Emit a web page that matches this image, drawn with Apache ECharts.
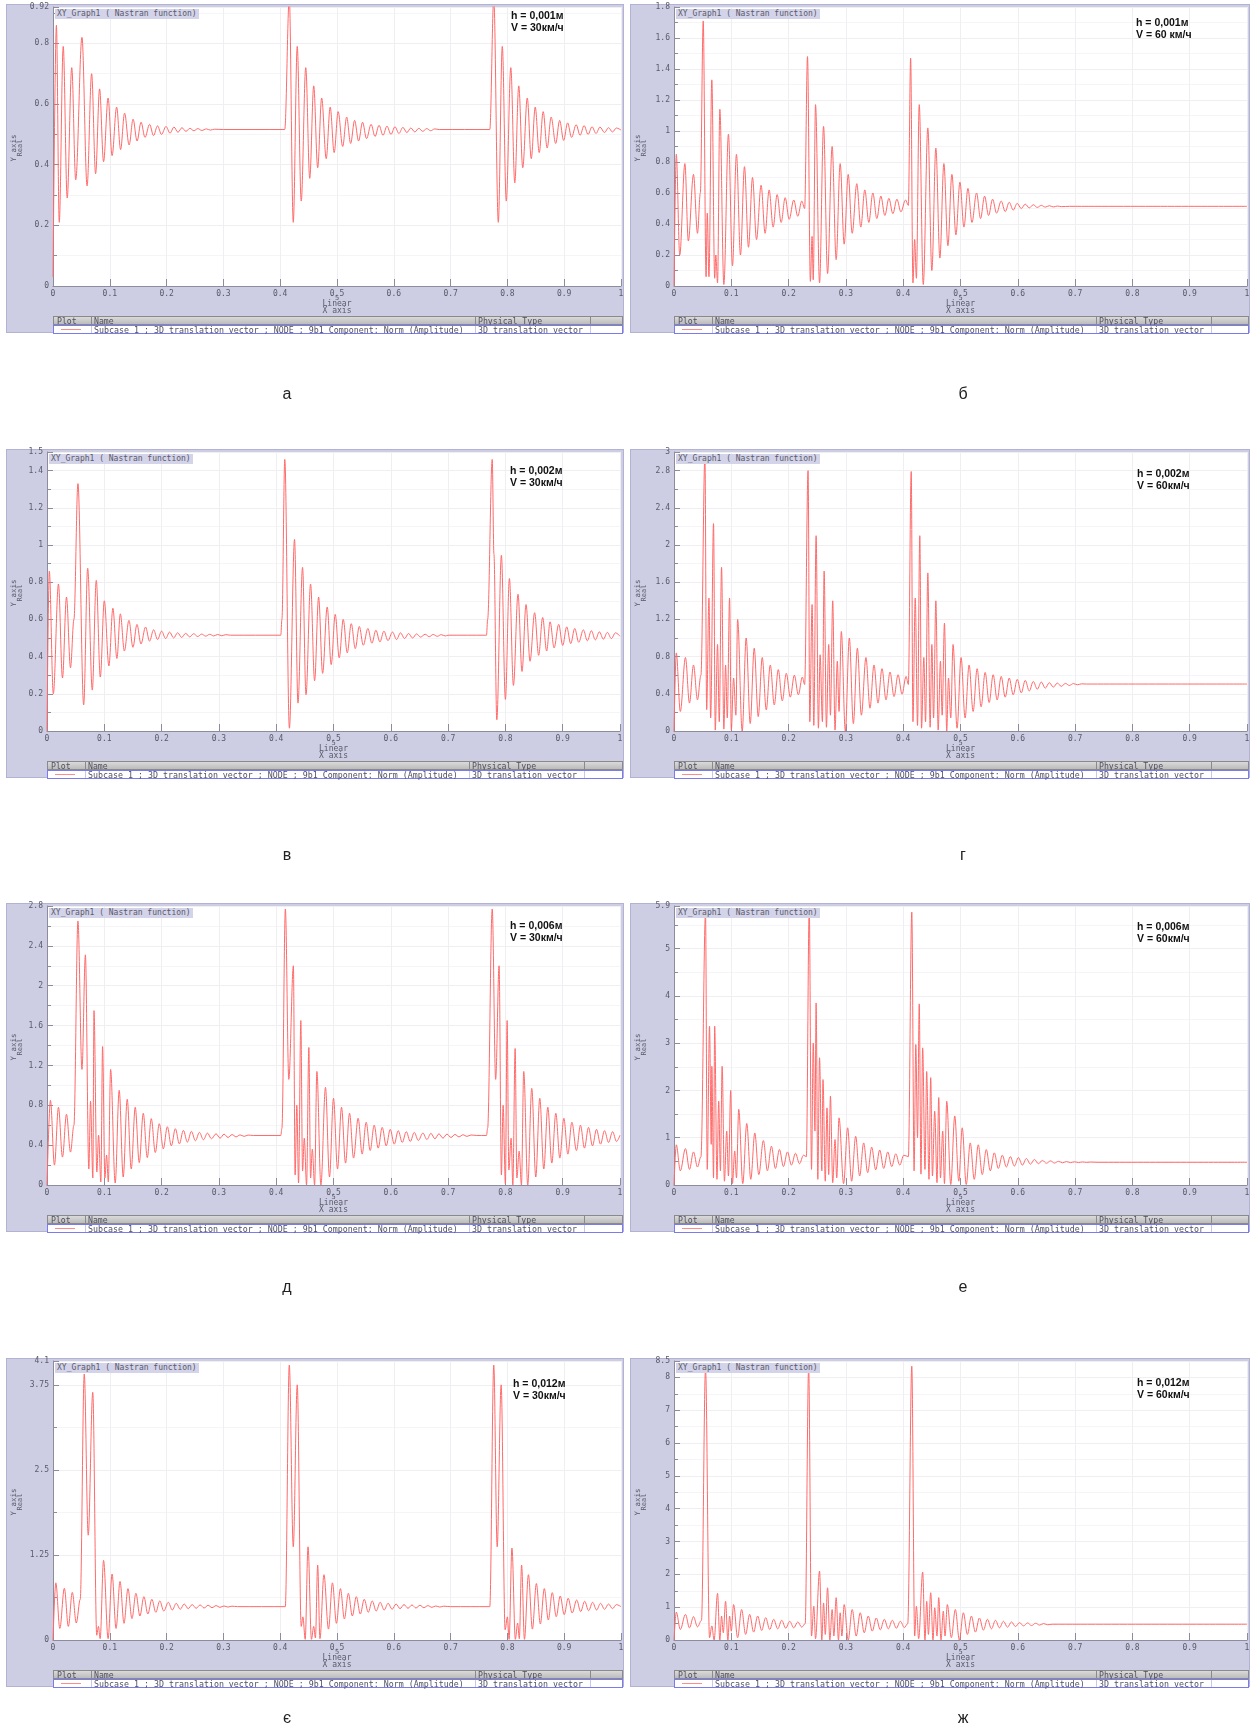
<!DOCTYPE html>
<html><head><meta charset="utf-8">
<script src="https://cdn.jsdelivr.net/npm/echarts/dist/echarts.min.js"></script>
<style>
html,body{margin:0;padding:0;background:#fff;overflow:hidden;}
#wrap{position:relative;width:1252px;height:1730px;}
#wrap div{position:absolute;box-sizing:border-box;white-space:nowrap;}
.mono{font-family:"DejaVu Sans Mono",monospace;color:#5a5a68;}
</style>
</head><body><div id="wrap"><div id="chart" style="left:0;top:0;width:1252px;height:1730px;z-index:1;"></div></div>
<script>
// ---------- texts ----------
const panelLetters = ['а','б','в','г','д','е','є','ж'];
const hLabels = ['h = 0,001м','h = 0,001м','h = 0,002м','h = 0,002м','h = 0,006м','h = 0,006м','h = 0,012м','h = 0,012м'];
const vLabels = ['V = 30км/ч','V = 60 км/ч','V = 30км/ч','V = 60км/ч','V = 30км/ч','V = 60км/ч','V = 30км/ч','V = 60км/ч'];
const graphTitle = 'XY_Graph1 ( Nastran function)';
const legendHeader = ['Plot','Name','Physical Type'];
const legendName = 'Subcase 1 ; 3D translation vector ; NODE ; 9b1 Component: Norm (Amplitude)';
const legendType = '3D translation vector';
// ---------- axes ----------
const yMax = [0.92,1.8,1.5,3,2.8,5.9,4.1,8.5];
const yStep = [0.2,0.2,0.2,0.4,0.4,1,1.25,1];
const xMin = 0, xMax = 1, xStep = 0.1;
// ---------- series values [x, y] ----------
const seriesA = [[0,0.03],[0.006,0.86],[0.011,0.21],[0.018,0.79],[0.025,0.29],[0.033,0.72],[0.040,0.35],[0.051,0.82],[0.060,0.33],[0.068,0.70],[0.075,0.37],[0.082,0.65],[0.089,0.41],[0.097,0.62],[0.104,0.43],[0.112,0.59],[0.119,0.45],[0.126,0.57],[0.134,0.465],[0.141,0.55],[0.148,0.478],[0.155,0.54],[0.162,0.49],[0.170,0.533],[0.177,0.496],[0.184,0.528],[0.191,0.50],[0.199,0.526],[0.206,0.504],[0.213,0.524],[0.220,0.507],[0.227,0.522],[0.234,0.51],[0.241,0.52],[0.248,0.512],[0.255,0.519],[0.262,0.513],[0.270,0.518],[0.277,0.514],[0.284,0.517],[0.30,0.516],[0.408,0.516],[0.416,0.95],[0.423,0.21],[0.430,0.79],[0.437,0.28],[0.445,0.72],[0.452,0.355],[0.459,0.66],[0.466,0.39],[0.473,0.62],[0.481,0.42],[0.488,0.59],[0.495,0.44],[0.502,0.575],[0.510,0.46],[0.517,0.557],[0.524,0.47],[0.531,0.546],[0.538,0.478],[0.545,0.54],[0.552,0.486],[0.560,0.533],[0.567,0.493],[0.574,0.53],[0.581,0.497],[0.588,0.527],[0.595,0.50],[0.602,0.525],[0.609,0.503],[0.616,0.523],[0.623,0.506],[0.630,0.521],[0.637,0.508],[0.644,0.52],[0.651,0.51],[0.658,0.519],[0.665,0.512],[0.672,0.518],[0.68,0.516],[0.769,0.516],[0.776,0.95],[0.784,0.21],[0.791,0.79],[0.798,0.28],[0.806,0.72],[0.813,0.34],[0.820,0.66],[0.827,0.39],[0.835,0.62],[0.842,0.42],[0.849,0.59],[0.856,0.44],[0.863,0.575],[0.870,0.455],[0.877,0.557],[0.885,0.47],[0.892,0.546],[0.899,0.48],[0.906,0.538],[0.913,0.49],[0.921,0.532],[0.928,0.497],[0.935,0.529],[0.942,0.50],[0.949,0.525],[0.956,0.503],[0.963,0.524],[0.971,0.506],[0.978,0.522],[0.985,0.508],[0.992,0.521],[1.0,0.514]];
const seriesB = [[0,0],[0.004,0.85],[0.010,0.2],[0.019,0.79],[0.025,0.29],[0.034,0.72],[0.041,0.34],[0.046,0.6],[0.051,1.71],[0.056,0.06],[0.058,0.47],[0.061,0.06],[0.066,1.33],[0.071,0.05],[0.073,0.2],[0.076,0.02],[0.08,1.14],[0.087,0.01],[0.095,0.98],[0.102,0.13],[0.109,0.85],[0.116,0.2],[0.123,0.77],[0.13,0.25],[0.137,0.70],[0.144,0.3],[0.152,0.65],[0.159,0.34],[0.166,0.62],[0.173,0.38],[0.18,0.59],[0.187,0.41],[0.194,0.57],[0.201,0.43],[0.209,0.555],[0.216,0.45],[0.223,0.548],[0.228,0.5],[0.233,1.48],[0.238,0.03],[0.241,0.32],[0.243,0.04],[0.247,1.17],[0.254,0.02],[0.261,1.03],[0.268,0.08],[0.276,0.9],[0.283,0.17],[0.29,0.79],[0.297,0.27],[0.304,0.72],[0.311,0.34],[0.319,0.66],[0.326,0.38],[0.333,0.62],[0.34,0.41],[0.347,0.6],[0.354,0.435],[0.361,0.58],[0.368,0.455],[0.375,0.565],[0.382,0.467],[0.389,0.56],[0.396,0.478],[0.404,0.555],[0.409,0.52],[0.413,1.47],[0.417,0.02],[0.42,0.3],[0.423,0.05],[0.428,1.17],[0.435,0.01],[0.443,1.02],[0.45,0.1],[0.457,0.89],[0.464,0.18],[0.471,0.79],[0.478,0.26],[0.485,0.72],[0.492,0.33],[0.499,0.67],[0.506,0.38],[0.513,0.63],[0.52,0.41],[0.528,0.6],[0.535,0.435],[0.542,0.58],[0.549,0.455],[0.556,0.56],[0.563,0.47],[0.571,0.548],[0.578,0.48],[0.585,0.54],[0.592,0.49],[0.599,0.533],[0.606,0.5],[0.613,0.528],[0.62,0.504],[0.627,0.524],[0.634,0.507],[0.641,0.52],[0.648,0.509],[0.655,0.518],[0.662,0.51],[0.669,0.516],[0.676,0.512],[0.69,0.514],[1.0,0.514]];
const seriesV = [[0,0],[0.004,0.86],[0.011,0.2],[0.02,0.79],[0.027,0.285],[0.034,0.72],[0.041,0.34],[0.047,0.6],[0.054,1.33],[0.064,0.14],[0.071,0.875],[0.079,0.22],[0.086,0.81],[0.093,0.29],[0.1,0.70],[0.108,0.35],[0.115,0.66],[0.122,0.39],[0.128,0.63],[0.135,0.43],[0.143,0.595],[0.15,0.45],[0.157,0.573],[0.164,0.468],[0.172,0.559],[0.179,0.483],[0.186,0.544],[0.193,0.492],[0.2,0.537],[0.207,0.497],[0.214,0.532],[0.221,0.50],[0.228,0.528],[0.235,0.503],[0.242,0.525],[0.249,0.506],[0.256,0.523],[0.263,0.508],[0.27,0.521],[0.277,0.51],[0.284,0.52],[0.291,0.511],[0.298,0.519],[0.305,0.512],[0.312,0.518],[0.32,0.515],[0.408,0.515],[0.41,0.6],[0.415,1.46],[0.423,0.015],[0.432,1.03],[0.438,0.15],[0.446,0.88],[0.452,0.195],[0.46,0.79],[0.467,0.27],[0.474,0.72],[0.481,0.31],[0.489,0.667],[0.496,0.357],[0.503,0.627],[0.51,0.393],[0.517,0.6],[0.524,0.42],[0.531,0.577],[0.538,0.443],[0.545,0.562],[0.552,0.461],[0.56,0.551],[0.567,0.472],[0.574,0.542],[0.581,0.479],[0.588,0.537],[0.595,0.486],[0.603,0.532],[0.61,0.492],[0.617,0.528],[0.624,0.497],[0.631,0.524],[0.638,0.50],[0.645,0.522],[0.652,0.505],[0.66,0.52],[0.667,0.507],[0.674,0.519],[0.681,0.509],[0.688,0.518],[0.695,0.511],[0.70,0.515],[0.767,0.515],[0.769,0.6],[0.777,1.46],[0.780,0.95],[0.785,0.06],[0.793,0.945],[0.80,0.17],[0.807,0.82],[0.814,0.245],[0.822,0.735],[0.829,0.32],[0.836,0.68],[0.843,0.375],[0.851,0.636],[0.858,0.407],[0.865,0.61],[0.872,0.43],[0.878,0.587],[0.885,0.447],[0.893,0.573],[0.90,0.46],[0.907,0.56],[0.914,0.47],[0.921,0.551],[0.928,0.477],[0.936,0.544],[0.943,0.485],[0.95,0.539],[0.957,0.49],[0.964,0.533],[0.971,0.494],[0.978,0.53],[0.985,0.497],[0.992,0.528],[1.0,0.51]];
const seriesG = [[0,0],[0.004,0.84],[0.011,0.21],[0.02,0.79],[0.027,0.3],[0.034,0.71],[0.041,0.335],[0.047,0.6],[0.054,2.96],[0.057,0.23],[0.061,1.43],[0.064,0.14],[0.069,2.23],[0.072,0.01],[0.076,0.93],[0.079,0.1],[0.083,1.76],[0.087,0.02],[0.09,0.71],[0.093,0.14],[0.097,1.43],[0.10,0.01],[0.104,0.57],[0.108,0.17],[0.111,1.2],[0.119,0.0],[0.126,1.0],[0.133,0.08],[0.14,0.89],[0.147,0.155],[0.154,0.79],[0.161,0.227],[0.168,0.71],[0.175,0.28],[0.182,0.66],[0.189,0.324],[0.196,0.62],[0.203,0.364],[0.21,0.6],[0.217,0.39],[0.224,0.58],[0.228,0.5],[0.234,2.8],[0.237,0.1],[0.241,1.36],[0.244,0.06],[0.248,2.1],[0.252,0.03],[0.255,0.82],[0.259,0.1],[0.262,1.72],[0.266,0.04],[0.27,0.93],[0.273,0.17],[0.277,1.4],[0.281,0.01],[0.285,0.75],[0.288,0.21],[0.292,1.07],[0.299,0.0],[0.306,1.0],[0.313,0.08],[0.32,0.89],[0.327,0.17],[0.335,0.79],[0.342,0.245],[0.349,0.71],[0.356,0.3],[0.363,0.67],[0.37,0.335],[0.377,0.634],[0.384,0.37],[0.391,0.605],[0.398,0.396],[0.405,0.587],[0.409,0.5],[0.414,2.79],[0.417,0.1],[0.421,1.43],[0.425,0.06],[0.429,2.1],[0.432,0.03],[0.436,0.79],[0.439,0.1],[0.443,1.7],[0.447,0.04],[0.45,0.93],[0.453,0.14],[0.457,1.4],[0.461,0.01],[0.465,0.75],[0.468,0.17],[0.472,1.16],[0.476,0.0],[0.479,0.57],[0.483,0.14],[0.487,0.93],[0.494,0.03],[0.501,0.79],[0.508,0.14],[0.515,0.71],[0.522,0.21],[0.529,0.67],[0.536,0.26],[0.543,0.63],[0.55,0.306],[0.557,0.605],[0.564,0.335],[0.571,0.587],[0.578,0.364],[0.585,0.569],[0.592,0.39],[0.599,0.555],[0.606,0.41],[0.613,0.544],[0.62,0.43],[0.627,0.533],[0.634,0.45],[0.641,0.526],[0.648,0.461],[0.655,0.519],[0.662,0.472],[0.669,0.515],[0.676,0.48],[0.683,0.512],[0.69,0.49],[0.697,0.51],[0.704,0.497],[0.711,0.507],[0.72,0.505],[1.0,0.505]];
const seriesD = [[0,0],[0.006,0.85],[0.013,0.2],[0.02,0.78],[0.027,0.28],[0.034,0.71],[0.041,0.33],[0.047,0.6],[0.054,2.65],[0.061,1.16],[0.067,2.31],[0.073,0.16],[0.076,0.84],[0.08,0.07],[0.082,1.75],[0.087,0.13],[0.09,0.5],[0.094,0.03],[0.097,1.39],[0.101,0.07],[0.104,0.3],[0.107,0.03],[0.111,1.16],[0.119,0.02],[0.126,0.95],[0.133,0.08],[0.14,0.86],[0.147,0.16],[0.154,0.78],[0.161,0.225],[0.168,0.72],[0.175,0.275],[0.182,0.666],[0.189,0.326],[0.196,0.615],[0.203,0.363],[0.21,0.585],[0.217,0.393],[0.224,0.565],[0.231,0.413],[0.238,0.548],[0.245,0.43],[0.252,0.538],[0.259,0.444],[0.266,0.528],[0.273,0.454],[0.28,0.521],[0.287,0.464],[0.295,0.514],[0.302,0.47],[0.309,0.51],[0.316,0.477],[0.323,0.506],[0.33,0.483],[0.337,0.503],[0.344,0.488],[0.351,0.501],[0.36,0.497],[0.408,0.497],[0.41,0.57],[0.416,2.77],[0.422,1.06],[0.43,2.2],[0.433,0.1],[0.436,0.8],[0.439,0.02],[0.443,1.65],[0.446,0.14],[0.449,0.47],[0.453,0.0],[0.457,1.38],[0.46,0.07],[0.463,0.36],[0.467,0.0],[0.471,1.14],[0.478,0.0],[0.486,0.98],[0.493,0.08],[0.50,0.87],[0.507,0.16],[0.514,0.78],[0.521,0.22],[0.528,0.72],[0.535,0.27],[0.543,0.67],[0.55,0.31],[0.557,0.63],[0.564,0.346],[0.571,0.6],[0.578,0.37],[0.585,0.578],[0.592,0.393],[0.599,0.558],[0.606,0.41],[0.613,0.545],[0.62,0.427],[0.627,0.535],[0.634,0.437],[0.641,0.528],[0.648,0.447],[0.656,0.521],[0.663,0.457],[0.67,0.518],[0.677,0.464],[0.684,0.514],[0.691,0.47],[0.698,0.511],[0.705,0.477],[0.712,0.507],[0.719,0.483],[0.726,0.504],[0.733,0.488],[0.74,0.502],[0.75,0.497],[0.767,0.497],[0.769,0.57],[0.777,2.77],[0.783,1.06],[0.789,2.2],[0.793,0.1],[0.796,0.8],[0.8,0.01],[0.803,1.65],[0.806,0.15],[0.81,0.47],[0.813,0.0],[0.817,1.37],[0.82,0.07],[0.824,0.34],[0.828,0.0],[0.832,1.14],[0.839,0.0],[0.846,0.97],[0.853,0.08],[0.86,0.87],[0.867,0.16],[0.874,0.78],[0.881,0.22],[0.888,0.72],[0.895,0.27],[0.902,0.67],[0.909,0.31],[0.916,0.63],[0.924,0.346],[0.931,0.6],[0.938,0.37],[0.945,0.578],[0.952,0.393],[0.959,0.558],[0.966,0.41],[0.973,0.545],[0.98,0.427],[0.987,0.535],[0.994,0.437],[1.0,0.5]];
const seriesE = [[0,0],[0.004,0.85],[0.011,0.3],[0.02,0.77],[0.027,0.33],[0.034,0.7],[0.041,0.38],[0.047,0.6],[0.055,5.75],[0.058,0.33],[0.062,3.36],[0.065,0.86],[0.066,2.51],[0.069,0.15],[0.071,3.36],[0.075,0.12],[0.078,1.77],[0.081,0.3],[0.084,2.51],[0.088,0.08],[0.092,1.14],[0.095,0.19],[0.099,2.0],[0.102,0.03],[0.106,0.72],[0.109,0.15],[0.113,1.6],[0.12,0.03],[0.127,1.3],[0.134,0.12],[0.141,1.1],[0.148,0.22],[0.156,0.94],[0.163,0.3],[0.17,0.82],[0.177,0.35],[0.184,0.75],[0.191,0.39],[0.198,0.7],[0.205,0.42],[0.212,0.67],[0.219,0.45],[0.226,0.63],[0.231,0.6],[0.236,5.86],[0.24,0.33],[0.243,3.0],[0.246,1.14],[0.248,3.85],[0.251,0.12],[0.254,2.69],[0.258,0.3],[0.26,2.23],[0.264,0.08],[0.267,1.63],[0.27,0.22],[0.273,1.88],[0.277,0.05],[0.281,0.96],[0.284,0.15],[0.288,1.42],[0.296,0.03],[0.303,1.21],[0.31,0.08],[0.317,1.03],[0.324,0.19],[0.331,0.89],[0.338,0.26],[0.345,0.8],[0.352,0.32],[0.359,0.74],[0.366,0.35],[0.373,0.7],[0.38,0.39],[0.387,0.66],[0.394,0.42],[0.401,0.63],[0.409,0.6],[0.415,5.77],[0.419,0.3],[0.422,2.97],[0.425,1.0],[0.428,3.83],[0.431,0.23],[0.434,2.9],[0.438,0.33],[0.441,2.4],[0.445,0.12],[0.448,2.27],[0.451,0.19],[0.455,1.56],[0.459,0.05],[0.462,1.85],[0.465,0.15],[0.469,1.14],[0.472,0.03],[0.476,1.77],[0.483,0.01],[0.49,1.46],[0.497,0.08],[0.503,1.21],[0.51,0.01],[0.517,0.89],[0.524,0.12],[0.531,0.85],[0.538,0.22],[0.545,0.75],[0.552,0.3],[0.559,0.68],[0.566,0.35],[0.573,0.63],[0.58,0.38],[0.587,0.6],[0.594,0.4],[0.601,0.58],[0.608,0.42],[0.615,0.56],[0.622,0.44],[0.629,0.54],[0.636,0.45],[0.643,0.52],[0.65,0.46],[0.657,0.51],[0.664,0.465],[0.671,0.5],[0.678,0.47],[0.685,0.495],[0.692,0.473],[0.699,0.49],[0.706,0.475],[0.713,0.487],[0.72,0.478],[0.727,0.485],[0.74,0.48],[1.0,0.48]];
const seriesYe = [[0,0],[0.005,0.84],[0.012,0.17],[0.02,0.76],[0.027,0.2],[0.034,0.7],[0.041,0.25],[0.048,0.6],[0.055,3.91],[0.062,1.54],[0.07,3.64],[0.077,0.07],[0.08,0.2],[0.083,0.02],[0.089,1.17],[0.097,0.02],[0.104,0.97],[0.111,0.17],[0.118,0.86],[0.125,0.245],[0.132,0.755],[0.139,0.314],[0.146,0.686],[0.153,0.353],[0.16,0.637],[0.167,0.382],[0.174,0.598],[0.181,0.407],[0.188,0.574],[0.195,0.426],[0.203,0.554],[0.21,0.441],[0.217,0.539],[0.224,0.451],[0.231,0.529],[0.238,0.461],[0.245,0.52],[0.252,0.466],[0.259,0.515],[0.266,0.47],[0.273,0.51],[0.28,0.475],[0.287,0.505],[0.294,0.48],[0.301,0.5],[0.308,0.484],[0.315,0.497],[0.325,0.49],[0.409,0.49],[0.416,4.04],[0.423,1.37],[0.43,3.75],[0.437,0.2],[0.44,0.34],[0.444,0.01],[0.449,1.37],[0.455,0.01],[0.459,0.2],[0.462,0.03],[0.466,1.1],[0.47,0.02],[0.477,0.96],[0.485,0.16],[0.492,0.84],[0.499,0.245],[0.506,0.755],[0.513,0.31],[0.52,0.686],[0.527,0.353],[0.534,0.637],[0.541,0.382],[0.548,0.598],[0.555,0.407],[0.562,0.574],[0.569,0.426],[0.576,0.554],[0.583,0.441],[0.59,0.539],[0.597,0.451],[0.604,0.529],[0.611,0.461],[0.618,0.52],[0.625,0.466],[0.632,0.515],[0.639,0.47],[0.646,0.51],[0.653,0.475],[0.66,0.505],[0.667,0.48],[0.674,0.5],[0.681,0.484],[0.688,0.497],[0.70,0.49],[0.769,0.49],[0.776,4.04],[0.782,1.37],[0.789,3.75],[0.796,0.15],[0.80,0.34],[0.803,0.01],[0.808,1.35],[0.814,0.01],[0.818,0.25],[0.821,0.02],[0.825,1.1],[0.83,0.01],[0.837,0.96],[0.844,0.16],[0.851,0.83],[0.858,0.235],[0.865,0.755],[0.872,0.294],[0.879,0.696],[0.886,0.343],[0.893,0.647],[0.90,0.373],[0.907,0.613],[0.914,0.397],[0.922,0.588],[0.929,0.417],[0.936,0.569],[0.943,0.431],[0.95,0.554],[0.957,0.441],[0.964,0.539],[0.971,0.451],[0.978,0.529],[0.985,0.461],[0.992,0.52],[1.0,0.49]];
const seriesZh = [[0,0],[0.004,0.85],[0.011,0.32],[0.02,0.78],[0.027,0.37],[0.034,0.71],[0.041,0.4],[0.048,0.6],[0.055,8.27],[0.062,0.07],[0.066,0.43],[0.07,0.0],[0.076,1.42],[0.08,0.0],[0.083,0.73],[0.086,0.22],[0.09,1.18],[0.094,0.0],[0.097,0.73],[0.1,0.27],[0.104,1.08],[0.111,0.07],[0.118,0.93],[0.125,0.17],[0.132,0.78],[0.139,0.24],[0.146,0.73],[0.153,0.29],[0.16,0.68],[0.167,0.32],[0.174,0.63],[0.181,0.34],[0.188,0.6],[0.195,0.36],[0.202,0.57],[0.209,0.37],[0.216,0.55],[0.223,0.39],[0.229,0.5],[0.235,8.32],[0.24,0.12],[0.244,1.03],[0.247,0.04],[0.254,2.1],[0.258,0.0],[0.261,1.13],[0.264,0.17],[0.268,1.59],[0.272,0.0],[0.276,0.93],[0.279,0.12],[0.283,1.29],[0.287,0.0],[0.29,0.83],[0.293,0.12],[0.297,1.08],[0.304,0.0],[0.311,0.93],[0.318,0.12],[0.325,0.83],[0.332,0.22],[0.339,0.73],[0.346,0.27],[0.353,0.67],[0.36,0.31],[0.367,0.63],[0.374,0.34],[0.381,0.6],[0.388,0.36],[0.395,0.57],[0.402,0.38],[0.408,0.5],[0.415,8.34],[0.42,0.12],[0.423,1.03],[0.427,0.04],[0.434,2.07],[0.438,0.0],[0.441,1.18],[0.444,0.17],[0.448,1.44],[0.452,0.0],[0.455,0.98],[0.459,0.12],[0.462,1.29],[0.466,0.0],[0.47,0.88],[0.473,0.12],[0.477,1.08],[0.484,0.07],[0.491,0.93],[0.498,0.0],[0.505,0.83],[0.512,0.17],[0.519,0.73],[0.526,0.24],[0.533,0.67],[0.54,0.3],[0.547,0.63],[0.554,0.34],[0.561,0.6],[0.568,0.37],[0.575,0.57],[0.582,0.39],[0.589,0.55],[0.596,0.41],[0.603,0.53],[0.61,0.43],[0.617,0.52],[0.624,0.44],[0.631,0.51],[0.638,0.455],[0.645,0.5],[0.652,0.465],[0.66,0.48],[1.0,0.48]];
const allSeries = [seriesA, seriesB, seriesV, seriesG, seriesD, seriesE, seriesYe, seriesZh];

// ---------- layout (pixels) ----------
const FRAME_X = [6, 630], FRAME_W = [618, 620], FRAME_Y = [4, 449, 903, 1358], FRAME_H = 329;
const PLOT_L = [53, 674, 47, 674, 47, 674, 53, 674];
const PLOT_R = [621, 1247, 620, 1247, 620, 1247, 621, 1247];
const PLOT_DT = 3, PLOT_H = 279;
const NOTE_POS = [[505,11],[506,18],[504,21],[507,24],[504,22],[507,23],[507,25],[507,24]];
const LETTER_X = [287, 963], LETTER_Y = [394, 855, 1287, 1718];
const COL_OFF = [37, 421, 536];

const wrap = document.getElementById('wrap');
function box(css, text, cls) {
  const d = document.createElement('div');
  d.style.cssText = css;
  if (cls) d.className = cls;
  if (text != null) d.textContent = text;
  wrap.appendChild(d);
  return d;
}

const grids = [], xAxes = [], yAxes = [], series = [];
const axisCol = '#8c8c9c';
for (let i = 0; i < 8; i++) {
  const col = i % 2, row = Math.floor(i / 2);
  const fx = FRAME_X[col], fw = FRAME_W[col], fy = FRAME_Y[row];
  const L = PLOT_L[i], T = fy + PLOT_DT, W = PLOT_R[i] - PLOT_L[i], H = PLOT_H;
  box(`left:${fx}px;top:${fy}px;width:${fw}px;height:${FRAME_H}px;background:#cdcde3;border:1px solid #b2b2d4;z-index:0;`);
  box(`left:${L}px;top:${T}px;width:${W+1}px;height:${H}px;background:#fff;border-top:1px solid #c4c4dc;border-right:1px solid #c4c4dc;z-index:0;`);
  box(`left:${L+2}px;top:${T+2}px;height:10px;padding:0 2px;background:#d3d3ea;font-size:8px;line-height:10px;z-index:2;`, graphTitle, 'mono');
  const np = NOTE_POS[i];
  box(`left:${fx+np[0]}px;top:${fy+np[1]-6}px;font:bold 10.5px "Liberation Sans",Arial,sans-serif;line-height:12px;color:#111;z-index:2;`, hLabels[i]);
  box(`left:${fx+np[0]}px;top:${fy+np[1]+6}px;font:bold 10.5px "Liberation Sans",Arial,sans-serif;line-height:12px;color:#111;z-index:2;`, vLabels[i]);
  const cx = L + W / 2;
  box(`left:${cx-2}px;top:${fy+291}px;font-size:7px;line-height:7px;z-index:2;`, '5', 'mono');
  box(`left:${cx-15}px;top:${fy+296}px;width:30px;text-align:center;font-size:8px;line-height:8px;z-index:2;`, 'Linear', 'mono');
  box(`left:${cx-15}px;top:${fy+303}px;width:30px;text-align:center;font-size:8px;line-height:8px;z-index:2;`, 'X axis', 'mono');
  box(`left:${fx-12}px;top:${fy+140}px;width:40px;text-align:center;font-size:7.5px;line-height:8px;transform:rotate(-90deg);z-index:2;`, 'Y axis', 'mono');
  box(`left:${fx-6}px;top:${fy+140}px;width:40px;text-align:center;font-size:7px;line-height:8px;transform:rotate(-90deg);z-index:2;`, 'Real', 'mono');
  const tw = fx + fw - 1 - L;
  const hd = box(`left:${L}px;top:${fy+312}px;width:${tw}px;height:9px;background:linear-gradient(#dadada,#bcbcbc);border:1px solid #8a8a8a;z-index:2;`);
  const dr = box(`left:${L}px;top:${fy+321}px;width:${tw}px;height:9px;background:#fff;border:1px solid #7b7bf0;z-index:2;`);
  [hd, dr].forEach((r, ri) => {
    COL_OFF.forEach(o => {
      const s = document.createElement('div');
      s.style.cssText = `left:${o}px;top:0;width:1px;height:100%;background:${ri ? '#c8c8e8' : '#8a8a8a'};`;
      r.appendChild(s);
    });
  });
  legendHeader.forEach((t, k) => {
    const s = document.createElement('div');
    s.className = 'mono';
    s.style.cssText = `left:${(k ? COL_OFF[k-1] : 0) + 3}px;top:0;font-size:8.2px;line-height:8px;color:#505060;`;
    s.textContent = t; hd.appendChild(s);
  });
  const ln = document.createElement('div');
  ln.style.cssText = 'left:7px;top:3px;width:20px;height:1px;background:#ff8a8a;';
  dr.appendChild(ln);
  [[legendName, 0], [legendType, 1]].forEach(([t, k]) => {
    const s = document.createElement('div');
    s.className = 'mono';
    s.style.cssText = `left:${COL_OFF[k] + 3}px;top:0;font-size:8.3px;line-height:8px;color:#505060;`;
    s.textContent = t; dr.appendChild(s);
  });
  box(`left:${LETTER_X[col]-20}px;top:${LETTER_Y[row]-10}px;width:40px;text-align:center;font:16px "Liberation Sans",Arial,sans-serif;line-height:20px;color:#222;z-index:2;`, panelLetters[i]);

  grids.push({ left: L, top: T, width: W, height: H, containLabel: false, outerBoundsMode: 'none' });
  xAxes.push({
    gridIndex: i, type: 'value', min: xMin, max: xMax, interval: xStep,
    axisLine: { show: true, onZero: false, lineStyle: { color: axisCol, width: 1 } },
    axisTick: { show: true, inside: true, length: 7, lineStyle: { color: axisCol } },
    splitLine: { show: true, lineStyle: { color: '#efeff2', width: 1 } },
    axisLabel: { fontFamily: 'DejaVu Sans Mono', fontSize: 8, color: '#5a5a68', margin: 4 }
  });
  yAxes.push({
    gridIndex: i, type: 'value', min: 0, max: yMax[i], interval: yStep[i],
    axisLine: { show: true, onZero: false, lineStyle: { color: axisCol, width: 1 } },
    axisTick: { show: true, inside: true, length: 6, lineStyle: { color: axisCol } },
    minorTick: { show: true, splitNumber: 2, length: 4, lineStyle: { color: axisCol } },
    splitLine: { show: true, lineStyle: { color: '#efeff2', width: 1 } },
    minorSplitLine: { show: true, lineStyle: { color: '#f5f5f7', width: 1 } },
    axisLabel: { fontFamily: 'DejaVu Sans Mono', fontSize: 8, color: '#5a5a68', margin: 4 }
  });
  series.push({
    type: 'line', xAxisIndex: i, yAxisIndex: i, data: allSeries[i],
    showSymbol: false, symbol: 'none', clip: true, smooth: 0.35, smoothMonotone: 'x',
    lineStyle: { color: '#ff6a6a', width: 1 }, silent: true
  });
}

const chart = echarts.init(document.getElementById('chart'), null, { renderer: 'canvas' });
chart.setOption({ animation: false, backgroundColor: 'transparent', grid: grids, xAxis: xAxes, yAxis: yAxes, series: series });
</script></body></html>
